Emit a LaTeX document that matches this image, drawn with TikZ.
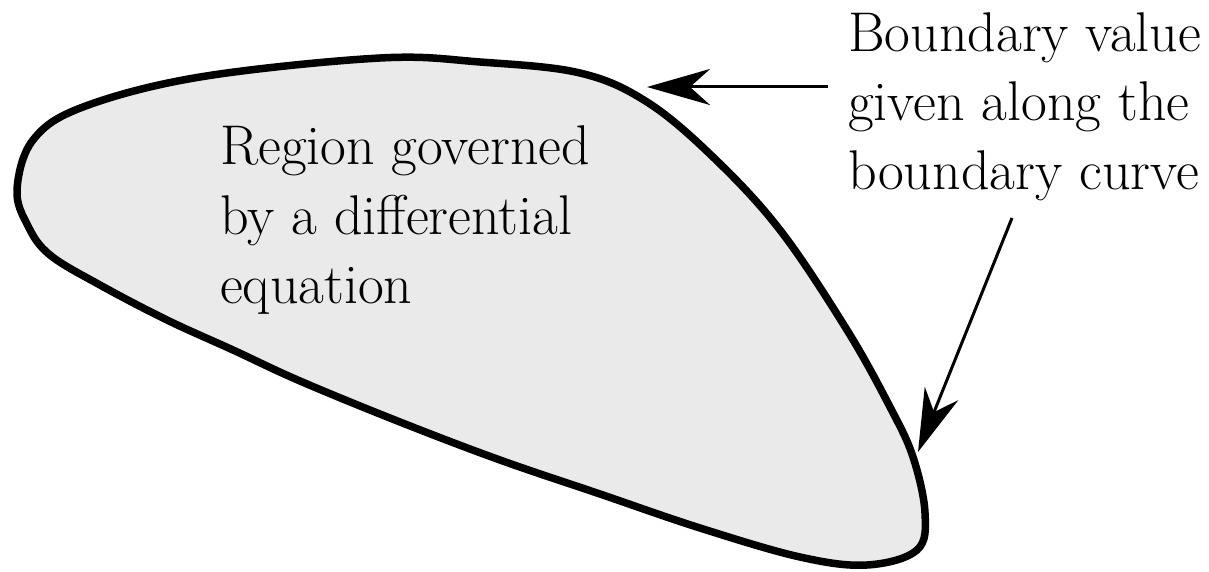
\documentclass[tikz,border=0pt]{standalone}
\usepackage{fontspec}
\usetikzlibrary{arrows.meta}
\definecolor{regionfill}{RGB}{234,234,234}
\tikzset{
  outline/.style={draw=black, line width=7.5pt, fill=regionfill, line join=round},
  pointer/.style={draw=black, line width=3pt, -{Stealth[length=63pt, width=36pt, inset=20pt]}},
  label/.style={inner sep=0pt, align=left, font=\rmfamily\fontsize{56}{69}\selectfont, anchor=base west}
}
\begin{document}
\begin{tikzpicture}[x=1pt, y=1pt]
\useasboundingbox (0,0) rectangle (1209,571);
\draw[outline] plot[smooth cycle, tension=0.6] coordinates {
 (17,381) (33,431) (83,464) (200,494) (380,513) (480,509) (580,498) (647,469)
 (713,414) (780,341) (847,241) (890,164) (913,114) (925,58) (917,21) (867,6)
 (800,14) (700,43) (600,77) (500,111) (400,149) (300,190) (233,221) (167,251)
 (100,286) (50,316) (28,345)};
\node[label] (region) at (220,268) {Region governed\\by a differential\\equation};
\node[label] (bval) at (848,381) {Boundary value\\given along the\\boundary curve};
\coordinate (tipA) at (647,484);
\coordinate (startA) at (828,484);
\coordinate (tipB) at (918,119);
\coordinate (startB) at (1012,353);
\draw[pointer] (startA) -- (tipA);
\draw[pointer] (startB) -- (tipB);
\end{tikzpicture}
\end{document}
